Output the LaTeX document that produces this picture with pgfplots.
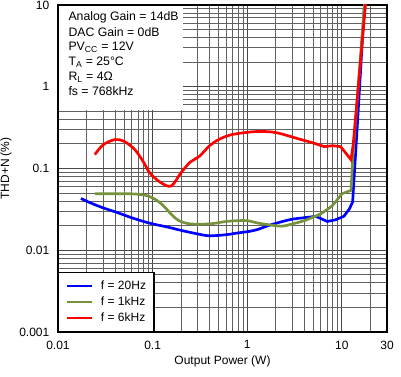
\documentclass[border=0pt]{standalone}
\usepackage{pgfplots}
\pgfplotsset{compat=1.18}
\usepackage{fontspec}
\setmainfont{Liberation Sans}
\definecolor{tiblue}{RGB}{0,0,255}
\definecolor{tigreen}{RGB}{118,146,60}
\definecolor{tired}{RGB}{255,0,0}
\begin{document}
\begin{tikzpicture}
\path[use as bounding box] (-43.5pt,-33.75pt) rectangle (257.25pt,249pt);
\begin{axis}[
  at={(0,0)}, anchor=south west,
  scale only axis, width=246.75pt, height=245.25pt,
  xmode=log, ymode=log,
  xmin=0.01, xmax=30, ymin=0.001, ymax=10,
  xtick={0.01,0.1,1,10,30}, xticklabels={0.01,0.1,1,10,30},
  ytick={0.001,0.01,0.1,1,10}, yticklabels={\raisebox{-2pt}{0.001},0.01,0.1,1,10},
  minor xtick={0.02,0.03,0.04,0.05,0.06,0.07,0.08,0.09,0.2,0.3,0.4,0.5,0.6,0.7,0.8,0.9,2,3,4,5,6,7,8,9,20},
  minor ytick={0.002,0.003,0.004,0.005,0.006,0.007,0.008,0.009,0.02,0.03,0.04,0.05,0.06,0.07,0.08,0.09,0.2,0.3,0.4,0.5,0.6,0.7,0.8,0.9,2,3,4,5,6,7,8,9},
  grid=both,
  major grid style={black!72, line width=0.6pt},
  minor grid style={black!62, line width=0.6pt},
  major tick length=0pt, minor tick length=0pt,
  axis line style={black, line width=1pt},
  tick label style={font=\fontsize{9}{10}\selectfont},
  xticklabel style={yshift=-3pt},
  yticklabel style={xshift=-3pt},
  xlabel={Output Power (W)},
  ylabel={THD+N (\%)},
  label style={font=\fontsize{9}{10}\selectfont},
  xlabel style={at={([yshift=-18pt]axis description cs:0.5,0)}, anchor=north, inner sep=0pt},
  ylabel style={at={([xshift=-34.5pt]axis description cs:0,0.5)}, anchor=south, inner sep=0pt},
  legend style={at={(axis description cs:0,0)}, anchor=south west, draw=black, line width=1pt, fill=white,
    font=\fontsize{9}{10}\selectfont, inner xsep=5pt, inner ysep=4.5pt, column sep=5pt, row sep=1pt,
    nodes={inner sep=1pt, text height=7pt, text depth=2pt}},
  legend cell align=left,
  legend image code/.code={\draw[#1] (0pt,0pt) -- (18.75pt,0pt);},
]
\fill[white] ([xshift=0.5pt,yshift=-0.5pt]axis cs:0.01,10) rectangle (axis cs:0.21,0.52);

\addplot[tiblue, line width=2pt, smooth, tension=0.5] coordinates {
(0.0175,0.043) (0.022,0.038) (0.03,0.033) (0.042,0.029) (0.06,0.025) (0.08,0.0225)
(0.1,0.021) (0.15,0.019) (0.2,0.0175) (0.31,0.0157) (0.4,0.015) (0.6,0.0155)
(0.8,0.0163) (1.05,0.017) (1.3,0.018) (1.6,0.0197) (2.2,0.022) (3,0.024)
(4,0.025) (5.3,0.026)};
\addlegendentry{f = 20Hz}
\addplot[tiblue, line width=2pt, forget plot] coordinates {
(5.3,0.026) (6.2,0.024) (7,0.0225) (8.5,0.0235) (10.5,0.026)
(12,0.032) (13,0.039) (14.7,0.4) (17.5,12)};
\addplot[tigreen, line width=2pt, smooth, tension=0.5] coordinates {
(0.0245,0.049) (0.04,0.049) (0.06,0.049) (0.075,0.048) (0.09,0.046) (0.11,0.041)
(0.13,0.035) (0.16,0.027) (0.19,0.023) (0.25,0.021) (0.4,0.021) (0.6,0.0225)
(0.8,0.023) (1.0,0.023) (1.3,0.0215) (1.6,0.0207) (2.3,0.0197) (3,0.021)
(4,0.023) (5,0.0255) (6,0.028) (7.9,0.035) (9,0.042) (10,0.049)};
\addlegendentry{f = 1kHz}
\addplot[tigreen, line width=2pt, forget plot] coordinates {
(10,0.049) (12.5,0.054) (13,0.128) (17.5,12)};
\addplot[tired, line width=2pt, smooth, tension=0.5] coordinates {
(0.0245,0.148) (0.03,0.195) (0.04,0.226) (0.05,0.215) (0.065,0.17) (0.08,0.12)
(0.093,0.089) (0.12,0.068) (0.157,0.061) (0.2,0.089) (0.25,0.12) (0.31,0.14)
(0.4,0.19) (0.5,0.226) (0.69,0.26) (1.24,0.283) (2.0,0.275) (3.5,0.23)
(5,0.205) (6.5,0.185)};
\addlegendentry{f = 6kHz}
\addplot[tired, line width=2pt, forget plot] coordinates {
(6.5,0.185) (8,0.19) (9.7,0.185) (12.5,0.128) (13.2,0.2) (18,12)};

\begin{scope}[every node/.style={anchor=base west, inner sep=0pt, font=\fontsize{9.2}{10}\selectfont}]
\node at ([xshift=7.7pt,yshift=-12pt]axis description cs:0,1) {Analog Gain = 14dB};
\node at ([xshift=7.7pt,yshift=-24pt]axis description cs:0,1) {DAC Gain = 0dB};
\node at ([xshift=7.7pt,yshift=-34.5pt]axis description cs:0,1) {PV\textsubscript{CC} = 12V};
\node at ([xshift=7.7pt,yshift=-45.75pt]axis description cs:0,1) {T\textsubscript{A} = 25°C};
\node at ([xshift=7.7pt,yshift=-56.8pt]axis description cs:0,1) {R\textsubscript{L} = 4Ω};
\node at ([xshift=7.7pt,yshift=-67.9pt]axis description cs:0,1) {fs = 768kHz};
\node[font=\fontsize{5.5}{6}\selectfont] at ([xshift=245pt,yshift=-31pt]axis description cs:0,0) {G011};
\end{scope}
\end{axis}
\end{tikzpicture}
\end{document}
